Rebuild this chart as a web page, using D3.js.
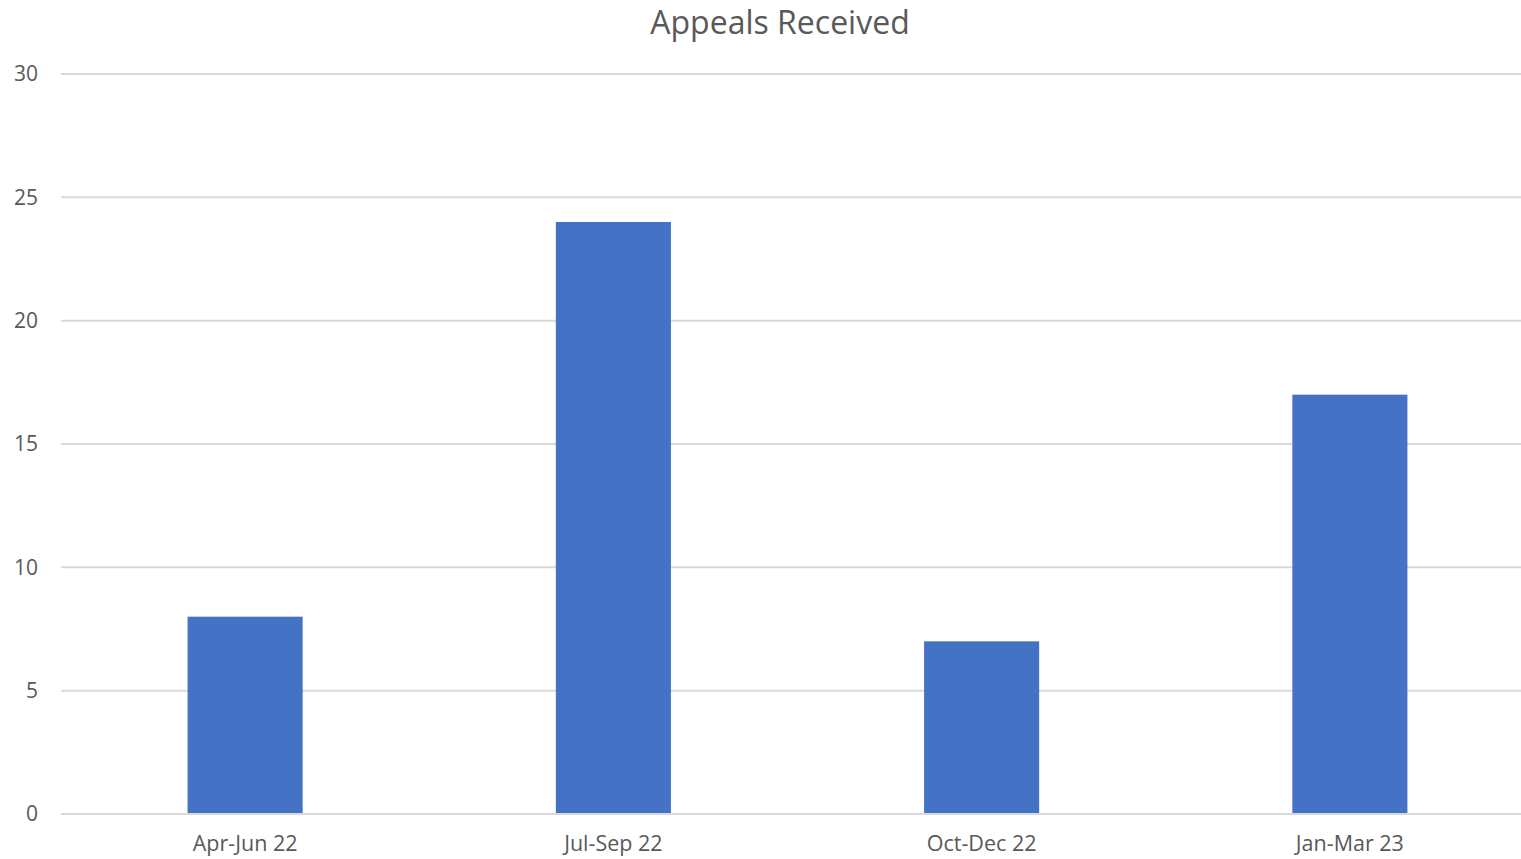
<!DOCTYPE html>
<html>
<head>
<meta charset="utf-8">
<script src="https://cdn.jsdelivr.net/npm/d3@7"></script>
<style>
  html, body { margin: 0; padding: 0; background: #fff; }
  svg { display: block; font-family: "Open Sans", "Noto Sans", sans-serif; }
</style>
</head>
<body>
<svg id="chart" width="1521" height="859"></svg>
<script>
// Quarterly appeal counts
const categories = ["Apr-Jun 22", "Jul-Sep 22", "Oct-Dec 22", "Jan-Mar 23"];
const appeals = [8, 24, 7, 17];
const yTicks = [0, 5, 10, 15, 20, 25, 30];
const title = "Appeals Received";

const svg = d3.select("#chart");
const plot = { left: 61, right: 1534, top: 74, bottom: 814 };

const x = d3.scaleBand()
  .domain(categories)
  .range([plot.left, plot.right])
  .paddingInner(0.6875)
  .paddingOuter(0.34375);

const y = d3.scaleLinear()
  .domain([0, 30])
  .range([plot.bottom, plot.top]);

// Title
svg.append("text")
  .attr("x", 780)
  .attr("y", 34)
  .attr("text-anchor", "middle")
  .attr("fill", "#595959")
  .attr("font-size", 32)
  .text(title);

// Horizontal gridlines
svg.append("g")
  .selectAll("line")
  .data(yTicks.filter(d => d !== 0))
  .join("line")
  .attr("x1", plot.left)
  .attr("x2", plot.right)
  .attr("y1", d => y(d))
  .attr("y2", d => y(d))
  .attr("stroke", "#d9d9d9")
  .attr("stroke-width", 2);

// Bars
svg.append("g")
  .selectAll("rect")
  .data(categories.map((c, i) => ({ c, v: appeals[i] })))
  .join("rect")
  .attr("x", d => x(d.c))
  .attr("width", x.bandwidth())
  .attr("y", d => y(d.v))
  .attr("height", d => y(0) - y(d.v))
  .attr("fill", "#4472c4");

// Category axis baseline
svg.append("line")
  .attr("x1", plot.left)
  .attr("x2", plot.right)
  .attr("y1", y(0))
  .attr("y2", y(0))
  .attr("stroke", "#d9d9d9")
  .attr("stroke-width", 2);

// Value axis labels
const yAxis = d3.axisLeft(y).tickValues(yTicks).tickSize(0).tickPadding(0);
const gy = svg.append("g")
  .attr("transform", `translate(38,0)`)
  .call(yAxis);
gy.select(".domain").remove();
gy.selectAll("text")
  .attr("fill", "#595959")
  .attr("font-size", 21)
  .attr("font-family", "\"Open Sans\", \"Noto Sans\", sans-serif");

// Category labels
const xAxis = d3.axisBottom(x).tickSize(0).tickPadding(0);
const gx = svg.append("g")
  .attr("transform", `translate(0,${y(0) + 22})`)
  .call(xAxis);
gx.select(".domain").remove();
gx.selectAll("text")
  .attr("fill", "#595959")
  .attr("font-size", 21.5)
  .attr("font-family", "\"Open Sans\", \"Noto Sans\", sans-serif");
</script>
</body>
</html>
